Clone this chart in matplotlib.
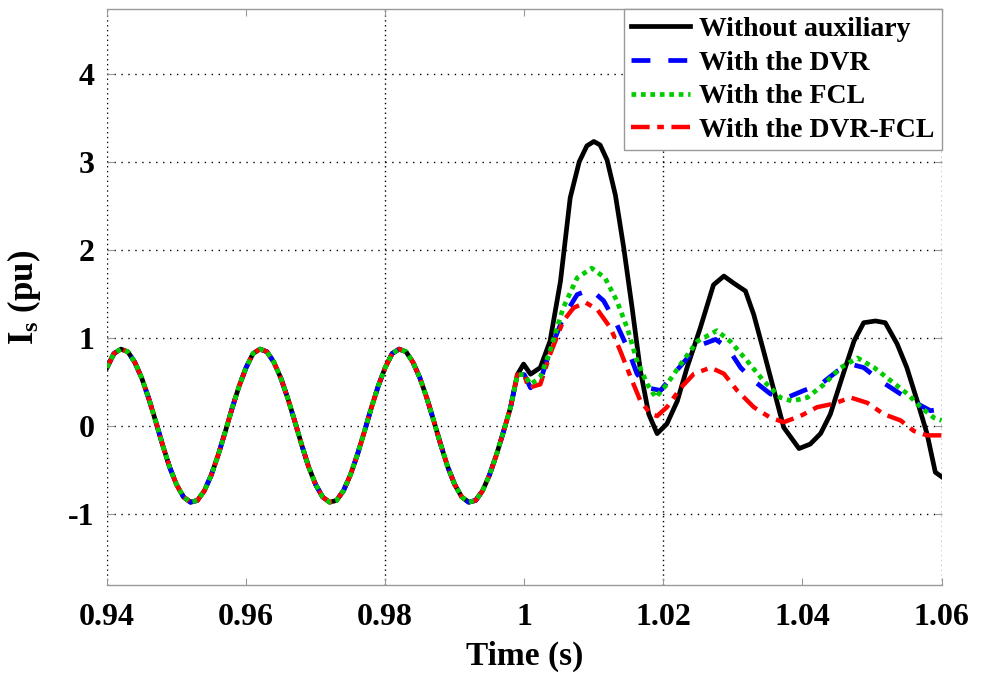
## Recreate source current plot: Is (pu) vs time, four fault cases
import matplotlib
matplotlib.use("Agg")
import matplotlib.pyplot as plt
import numpy as np

## pre-fault part (0.940 .. 0.999 s, 1 ms steps) is the same for all cases
t_pre = np.round(np.arange(0.940, 0.9995, 0.001), 3)
cycle = [0.66, 0.82, 0.87, 0.84, 0.72, 0.54, 0.31, 0.05, -0.22, -0.47,
         -0.67, -0.81, -0.87, -0.85, -0.74, -0.56, -0.33, -0.07, 0.20, 0.45]
i_pre = cycle + cycle + cycle[:19] + [0.58]

## after the fault at t = 1 s
t_without = [0.9999, 1.0009, 1.0023, 1.0037, 1.0052, 1.0066, 1.0079, 1.0090,
             1.0100, 1.0109, 1.0119, 1.0131, 1.0143, 1.0155, 1.0167, 1.0179,
             1.0191, 1.0205, 1.0220, 1.0234, 1.0253, 1.0272, 1.0287, 1.0301,
             1.0318, 1.0330, 1.0344, 1.0359, 1.0373, 1.0395, 1.0411, 1.0426,
             1.0440, 1.0457, 1.0474, 1.0488, 1.0505, 1.0519, 1.0536, 1.0550,
             1.0565, 1.0579, 1.0591, 1.0600]
i_without = [0.70, 0.585, 0.66, 0.96, 1.64, 2.59, 3.00, 3.18,
             3.23, 3.19, 3.02, 2.62, 2.02, 1.34, 0.62, 0.13,
             -0.09, 0.02, 0.28, 0.66, 1.11, 1.60, 1.70, 1.62,
             1.53, 1.26, 0.85, 0.40, -0.02, -0.26, -0.21, -0.09,
             0.13, 0.55, 0.96, 1.17, 1.19, 1.17, 0.93, 0.66,
             0.28, -0.09, -0.53, -0.58]

t_dvr = [1.0000, 1.0009, 1.0023, 1.0037, 1.0056, 1.0076, 1.0095, 1.0114,
         1.0133, 1.0148, 1.0162, 1.0177, 1.0196, 1.0215, 1.0239, 1.0258,
         1.0275, 1.0292, 1.0311, 1.0330, 1.0354, 1.0378, 1.0402, 1.0426,
         1.0450, 1.0469, 1.0488, 1.0512, 1.0541, 1.0565, 1.0584, 1.0600]
i_dvr = [0.58, 0.43, 0.51, 0.85, 1.23, 1.49, 1.55, 1.42,
         1.15, 0.89, 0.59, 0.43, 0.40, 0.59, 0.81, 0.93,
         0.98, 0.89, 0.66, 0.51, 0.36, 0.32, 0.40, 0.47,
         0.62, 0.70, 0.66, 0.51, 0.36, 0.25, 0.17, 0.19]

t_fcl = [1.0000, 1.0009, 1.0023, 1.0037, 1.0056, 1.0076, 1.0097, 1.0116,
         1.0133, 1.0148, 1.0162, 1.0177, 1.0189, 1.0205, 1.0225, 1.0249,
         1.0277, 1.0296, 1.0320, 1.0344, 1.0368, 1.0385, 1.0407, 1.0431,
         1.0455, 1.0479, 1.0503, 1.0527, 1.0551, 1.0570, 1.0589, 1.0600]
i_fcl = [0.58, 0.47, 0.55, 0.85, 1.34, 1.68, 1.79, 1.68,
         1.42, 1.11, 0.74, 0.47, 0.32, 0.47, 0.70, 0.96,
         1.08, 0.96, 0.74, 0.51, 0.32, 0.28, 0.32, 0.47,
         0.66, 0.77, 0.66, 0.51, 0.36, 0.21, 0.09, 0.06]

t_both = [1.0000, 1.0006, 1.0023, 1.0037, 1.0056, 1.0071, 1.0088, 1.0105,
          1.0124, 1.0138, 1.0153, 1.0167, 1.0182, 1.0191, 1.0205, 1.0225,
          1.0244, 1.0268, 1.0287, 1.0306, 1.0330, 1.0354, 1.0373, 1.0397,
          1.0421, 1.0445, 1.0469, 1.0493, 1.0517, 1.0541, 1.0560, 1.0579,
          1.0600]
i_both = [0.58, 0.43, 0.47, 0.81, 1.19, 1.34, 1.40, 1.32,
          1.11, 0.85, 0.55, 0.28, 0.13, 0.11, 0.21, 0.43,
          0.59, 0.66, 0.59, 0.40, 0.21, 0.09, 0.04, 0.11,
          0.21, 0.25, 0.32, 0.26, 0.13, 0.06, -0.06, -0.11,
          -0.11]

labels = ["Without auxiliary", "With the DVR", "With the FCL", "With the DVR-FCL"]
xticks = [0.94, 0.96, 0.98, 1.0, 1.02, 1.04, 1.06]
xticklabels = ["0.94", "0.96", "0.98", "1", "1.02", "1.04", "1.06"]
yticks = [-1, 0, 1, 2, 3, 4]
vgrid = [0.94, 0.98, 1.02, 1.06]

plt.rcParams['font.family'] = ['Liberation Serif', 'DejaVu Serif']
plt.rcParams['font.weight'] = 'bold'
plt.rcParams['axes.unicode_minus'] = False
plt.rcParams['mathtext.fontset'] = 'custom'
plt.rcParams['mathtext.rm'] = 'Liberation Serif:bold'
plt.rcParams['mathtext.it'] = 'Liberation Serif:bold'
plt.rcParams['mathtext.bf'] = 'Liberation Serif:bold'

fig = plt.figure(figsize=(9.87, 6.77), dpi=100)
ax = fig.add_axes([0.1084, 0.136, 0.8456, 0.850])

def full(t_post, i_post):
    return np.concatenate([t_pre, t_post]), np.concatenate([i_pre, i_post])

tx, ix = full(t_without, i_without)
l1, = ax.plot(tx, ix, color='black', lw=3.4, solid_joinstyle='round', zorder=3)
tx, ix = full(t_dvr, i_dvr)
l2, = ax.plot(tx, ix, color='#0000ff', lw=3.4, dashes=(4.0, 3.8),
              dash_capstyle='butt', zorder=4)
tx, ix = full(t_both, i_both)
l4, = ax.plot(tx, ix, color='#ff0000', lw=3.2, dashes=(4.2, 1.7, 1.5, 1.7),
              dash_capstyle='butt', zorder=5)
tx, ix = full(t_fcl, i_fcl)
l3, = ax.plot(tx, ix, color='#00cc00', lw=3.4, dashes=(1.0, 1.0),
              dash_capstyle='butt', zorder=6)

ax.set_xlim(0.94, 1.06)
ax.set_ylim(-1.81, 4.73)
ax.set_xticks(xticks)
ax.set_xticklabels(xticklabels)
ax.set_yticks(yticks)

## horizontal grid at every y tick, vertical grid only where the source shows it
ax.yaxis.grid(True, linestyle=(0, (1, 4)), color='black', lw=1.0)
for xv in vgrid:
    ax.axvline(xv, linestyle=(0, (1, 2.5)), color='black', lw=1.0, zorder=1)

for side in ['left', 'right']:
    ax.spines[side].set_visible(False)
for side in ['top', 'bottom']:
    ax.spines[side].set_color('#999999')
    ax.spines[side].set_linewidth(1.0)

ax.tick_params(axis='both', direction='in', length=5, width=0.8, color='#999999',
               top=True, right=True, labelsize=23)
ax.tick_params(axis='x', pad=13)
ax.tick_params(axis='y', pad=9)

ax.set_xlabel("Time (s)", fontsize=24, fontweight='bold', labelpad=6)
ax.set_ylabel(r"$\mathrm{I_s}$ (pu)", fontsize=25, fontweight='bold', labelpad=18)

leg = ax.legend([l1, l2, l3, l4], labels, loc='upper right', fontsize=20,
                frameon=True, fancybox=False, framealpha=1, edgecolor='#999999',
                handlelength=2.1, handletextpad=0.35, labelspacing=0.3,
                borderpad=0.25, borderaxespad=0.0)
leg.get_frame().set_linewidth(1.0)
for txt in leg.get_texts():
    txt.set_fontweight('bold')

plt.savefig("out.png", dpi=100)
